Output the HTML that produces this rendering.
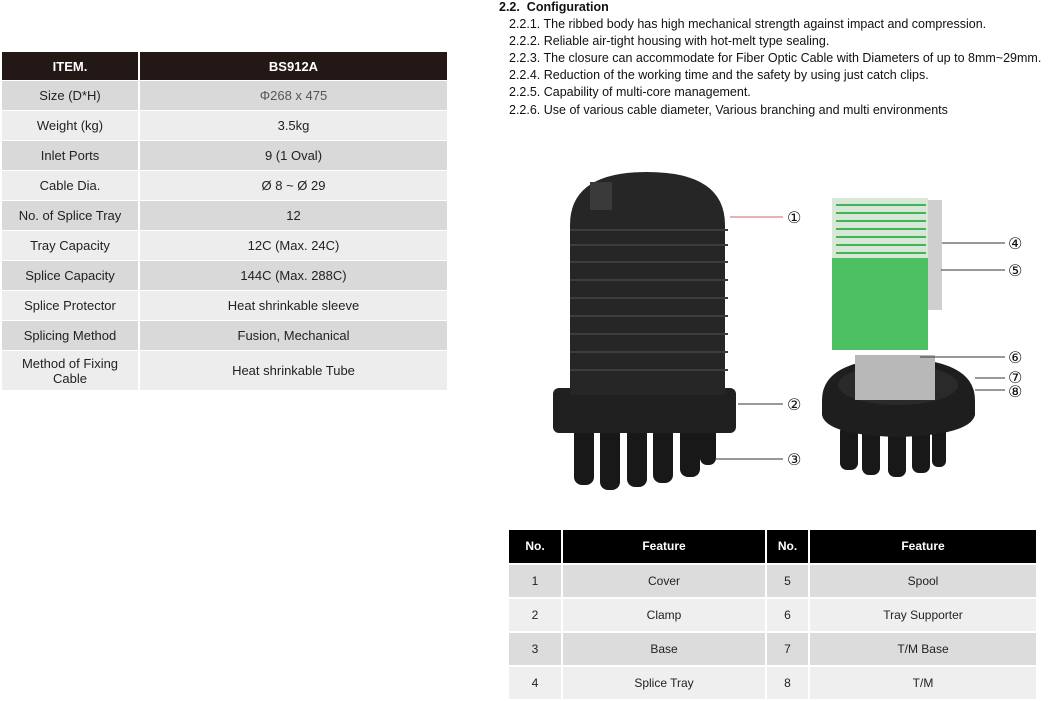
<!DOCTYPE html>
<html><head><meta charset="utf-8"><style>
body{margin:0;width:1050px;height:701px;background:#fff;position:relative;overflow:hidden;font-family:"Liberation Sans",Arial,sans-serif;}
.a{position:absolute;box-sizing:border-box;display:flex;align-items:center;justify-content:center;text-align:center;font-size:13px;color:#222;line-height:15px;}
.t{position:absolute;font-size:12.5px;color:#111;white-space:nowrap;}
</style></head><body>
<div class="t" style="left:499px;top:0px;font-weight:bold;">2.2.&nbsp; Configuration</div>
<div class="t" style="left:509px;top:17px;">2.2.1. The ribbed body has high mechanical strength against impact and compression.</div>
<div class="t" style="left:509px;top:34px;">2.2.2. Reliable air-tight housing with hot-melt type sealing.</div>
<div class="t" style="left:509px;top:51px;">2.2.3. The closure can accommodate for Fiber Optic Cable with Diameters of up to 8mm~29mm.</div>
<div class="t" style="left:509px;top:68px;">2.2.4. Reduction of the working time and the safety by using just catch clips.</div>
<div class="t" style="left:509px;top:85px;">2.2.5. Capability of multi-core management.</div>
<div class="t" style="left:509px;top:103px;">2.2.6. Use of various cable diameter, Various branching and multi environments</div>

<div class="a" style="left:2px;top:52px;width:136px;height:28px;background:#231815;color:#fff;font-weight:bold;">ITEM.</div>
<div class="a" style="left:140px;top:52px;width:307px;height:28px;background:#231815;color:#fff;font-weight:bold;">BS912A</div>
<div class="a" style="left:2px;top:81px;width:136px;height:29px;background:#d9d9d9;">Size (D*H)</div><div class="a" style="left:140px;top:81px;width:307px;height:29px;background:#d9d9d9;color:#555;">Φ268 x 475</div>
<div class="a" style="left:2px;top:111px;width:136px;height:29px;background:#ededed;">Weight (kg)</div><div class="a" style="left:140px;top:111px;width:307px;height:29px;background:#ededed;">3.5kg</div>
<div class="a" style="left:2px;top:141px;width:136px;height:29px;background:#d9d9d9;">Inlet Ports</div><div class="a" style="left:140px;top:141px;width:307px;height:29px;background:#d9d9d9;">9 (1 Oval)</div>
<div class="a" style="left:2px;top:171px;width:136px;height:29px;background:#ededed;">Cable Dia.</div><div class="a" style="left:140px;top:171px;width:307px;height:29px;background:#ededed;">Ø 8 ~ Ø 29</div>
<div class="a" style="left:2px;top:201px;width:136px;height:29px;background:#d9d9d9;">No. of Splice Tray</div><div class="a" style="left:140px;top:201px;width:307px;height:29px;background:#d9d9d9;">12</div>
<div class="a" style="left:2px;top:231px;width:136px;height:29px;background:#ededed;">Tray Capacity</div><div class="a" style="left:140px;top:231px;width:307px;height:29px;background:#ededed;">12C (Max. 24C)</div>
<div class="a" style="left:2px;top:261px;width:136px;height:29px;background:#d9d9d9;">Splice Capacity</div><div class="a" style="left:140px;top:261px;width:307px;height:29px;background:#d9d9d9;">144C (Max. 288C)</div>
<div class="a" style="left:2px;top:291px;width:136px;height:29px;background:#ededed;">Splice Protector</div><div class="a" style="left:140px;top:291px;width:307px;height:29px;background:#ededed;">Heat shrinkable sleeve</div>
<div class="a" style="left:2px;top:321px;width:136px;height:29px;background:#d9d9d9;">Splicing Method</div><div class="a" style="left:140px;top:321px;width:307px;height:29px;background:#d9d9d9;">Fusion, Mechanical</div>
<div class="a" style="left:2px;top:351px;width:136px;height:39px;background:#ededed;">Method of Fixing<br>Cable</div><div class="a" style="left:140px;top:351px;width:307px;height:39px;background:#ededed;">Heat shrinkable Tube</div>

<svg style="position:absolute;left:0;top:0" width="1050" height="701">
<g fill="#181818">
<rect x="574" y="425" width="20" height="60" rx="8"/><rect x="600" y="425" width="20" height="65" rx="8"/><rect x="627" y="425" width="20" height="62" rx="8"/><rect x="653" y="425" width="20" height="58" rx="8"/><rect x="680" y="425" width="20" height="52" rx="8"/><rect x="700" y="420" width="16" height="45" rx="7"/>
<rect x="553" y="388" width="183" height="45" rx="6" fill="#202020"/>
<path d="M570 395 L570 225 Q570 172 647 172 Q725 172 725 225 L725 395 Z" fill="#262626"/>
<rect x="590" y="182" width="22" height="28" fill="#3a3a3a"/>
<g stroke="#3d3d3d" stroke-width="2">
<line x1="570" y1="230" x2="728" y2="230"/><line x1="570" y1="245" x2="728" y2="245"/><line x1="570" y1="262" x2="728" y2="262"/>
<line x1="570" y1="280" x2="728" y2="280"/><line x1="570" y1="298" x2="728" y2="298"/><line x1="570" y1="316" x2="728" y2="316"/>
<line x1="570" y1="334" x2="728" y2="334"/><line x1="570" y1="352" x2="728" y2="352"/><line x1="570" y1="370" x2="728" y2="370"/>
</g>
<rect x="840" y="425" width="18" height="45" rx="7"/><rect x="862" y="425" width="18" height="50" rx="7"/><rect x="888" y="425" width="18" height="52" rx="7"/><rect x="912" y="425" width="18" height="48" rx="7"/><rect x="932" y="425" width="14" height="42" rx="6"/>
<path d="M822 400 Q822 360 898 358 Q975 360 975 400 L975 415 Q970 435 898 437 Q826 435 822 415 Z" fill="#1e1e1e"/>
<ellipse cx="898" cy="385" rx="60" ry="20" fill="#2a2a2a"/>
<rect x="855" y="355" width="80" height="45" fill="#b8b8b8"/>
</g>
<rect x="832" y="198" width="96" height="62" fill="#d9e8d6"/>
<g stroke="#3fb45a" stroke-width="2">
<line x1="836" y1="205" x2="926" y2="205"/><line x1="836" y1="213" x2="926" y2="213"/><line x1="836" y1="221" x2="926" y2="221"/>
<line x1="836" y1="229" x2="926" y2="229"/><line x1="836" y1="237" x2="926" y2="237"/><line x1="836" y1="245" x2="926" y2="245"/><line x1="836" y1="253" x2="926" y2="253"/>
</g>
<rect x="832" y="258" width="96" height="92" fill="#4cc063"/>
<rect x="928" y="200" width="14" height="110" fill="#cfcfcf"/>
<g stroke="#333" stroke-width="1">
<line x1="730" y1="217" x2="783" y2="217" stroke="#c66"/>
<line x1="738" y1="404" x2="783" y2="404"/>
<line x1="715" y1="459" x2="783" y2="459"/>
<line x1="942" y1="243" x2="1005" y2="243"/>
<line x1="941" y1="270" x2="1005" y2="270"/>
<line x1="920" y1="357" x2="1005" y2="357"/>
<line x1="975" y1="378" x2="1005" y2="378"/>
<line x1="975" y1="390" x2="1005" y2="390"/>
</g>
<g font-family="DejaVu Sans, sans-serif" font-size="16" fill="#111">
<text x="787" y="223">①</text><text x="787" y="410">②</text><text x="787" y="465">③</text>
<text x="1008" y="249">④</text><text x="1008" y="276">⑤</text><text x="1008" y="363">⑥</text>
<text x="1008" y="383">⑦</text><text x="1008" y="397">⑧</text>
</g>
</svg>

<div class="a" style="left:509px;top:530px;width:52px;height:33px;background:#000;color:#fff;font-weight:bold;font-size:12px;">No.</div>
<div class="a" style="left:563px;top:530px;width:202px;height:33px;background:#000;color:#fff;font-weight:bold;font-size:12px;">Feature</div>
<div class="a" style="left:767px;top:530px;width:41px;height:33px;background:#000;color:#fff;font-weight:bold;font-size:12px;">No.</div>
<div class="a" style="left:810px;top:530px;width:226px;height:33px;background:#000;color:#fff;font-weight:bold;font-size:12px;">Feature</div>

<div class="a" style="left:509px;top:565px;width:52px;height:32px;background:#dcdcdc;font-size:12px;">1</div><div class="a" style="left:563px;top:565px;width:202px;height:32px;background:#dcdcdc;font-size:12px;">Cover</div><div class="a" style="left:767px;top:565px;width:41px;height:32px;background:#dcdcdc;font-size:12px;">5</div><div class="a" style="left:810px;top:565px;width:226px;height:32px;background:#dcdcdc;font-size:12px;">Spool</div>
<div class="a" style="left:509px;top:599px;width:52px;height:32px;background:#efefef;font-size:12px;">2</div><div class="a" style="left:563px;top:599px;width:202px;height:32px;background:#efefef;font-size:12px;">Clamp</div><div class="a" style="left:767px;top:599px;width:41px;height:32px;background:#efefef;font-size:12px;">6</div><div class="a" style="left:810px;top:599px;width:226px;height:32px;background:#efefef;font-size:12px;">Tray Supporter</div>
<div class="a" style="left:509px;top:633px;width:52px;height:32px;background:#dcdcdc;font-size:12px;">3</div><div class="a" style="left:563px;top:633px;width:202px;height:32px;background:#dcdcdc;font-size:12px;">Base</div><div class="a" style="left:767px;top:633px;width:41px;height:32px;background:#dcdcdc;font-size:12px;">7</div><div class="a" style="left:810px;top:633px;width:226px;height:32px;background:#dcdcdc;font-size:12px;">T/M Base</div>
<div class="a" style="left:509px;top:667px;width:52px;height:32px;background:#efefef;font-size:12px;">4</div><div class="a" style="left:563px;top:667px;width:202px;height:32px;background:#efefef;font-size:12px;">Splice Tray</div><div class="a" style="left:767px;top:667px;width:41px;height:32px;background:#efefef;font-size:12px;">8</div><div class="a" style="left:810px;top:667px;width:226px;height:32px;background:#efefef;font-size:12px;">T/M</div>
</body></html>
